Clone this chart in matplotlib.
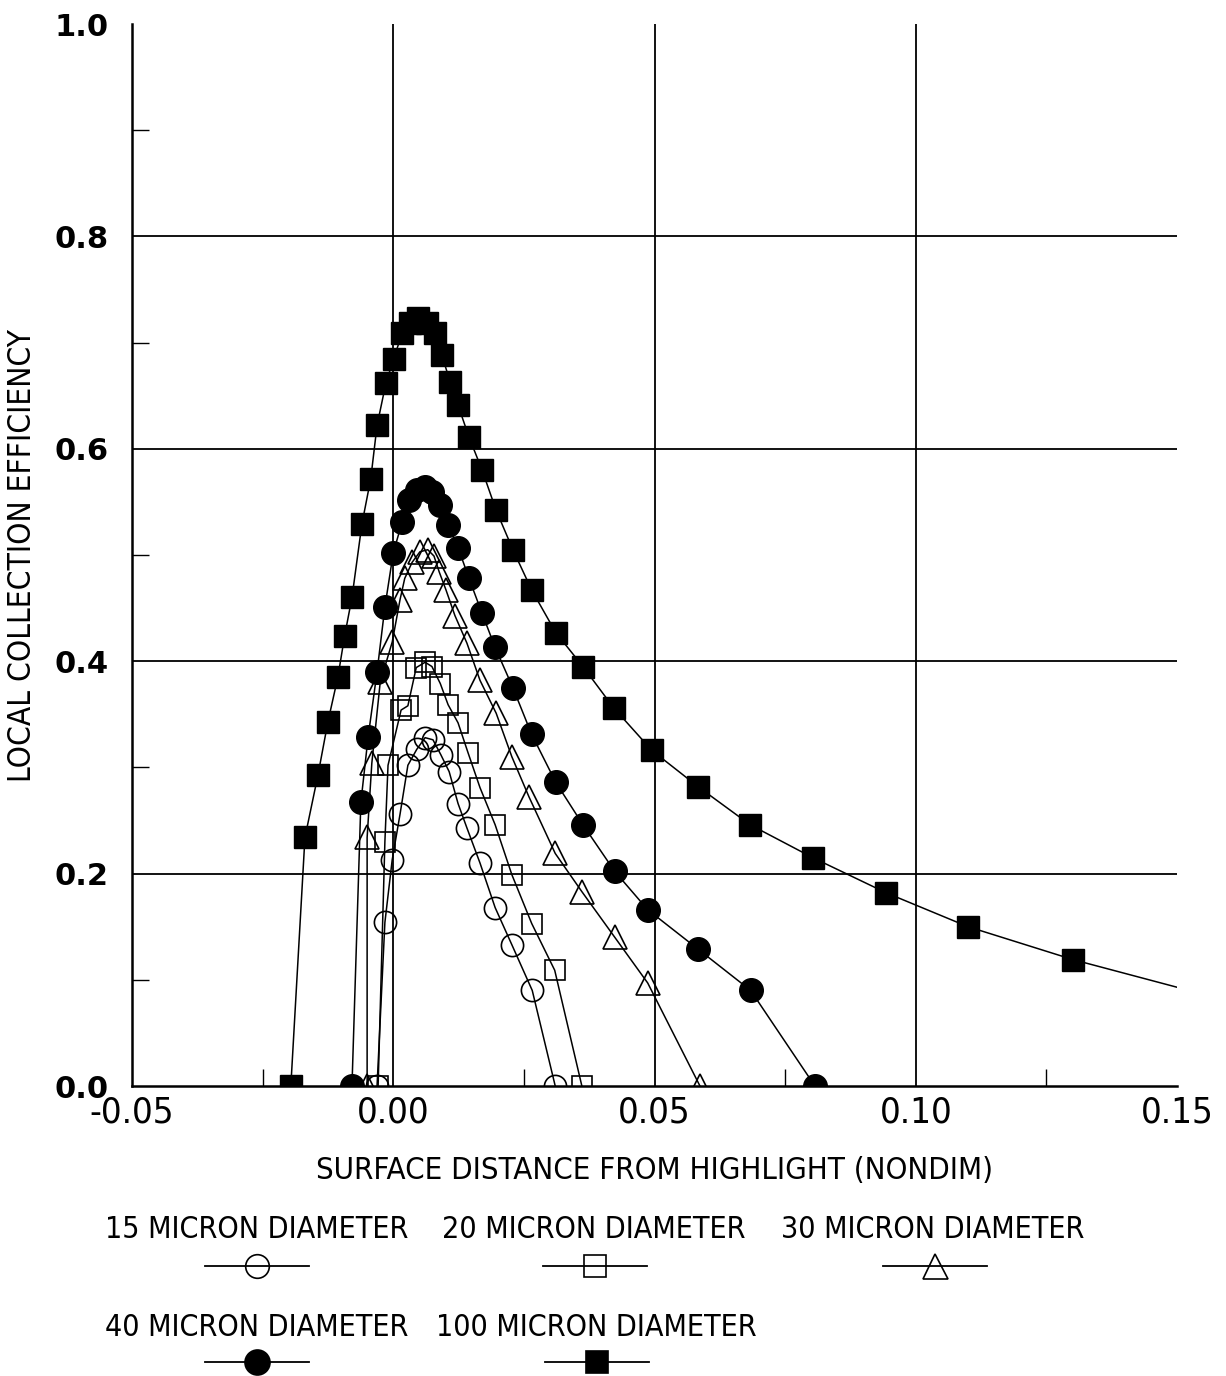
import matplotlib
matplotlib.use("Agg")
import matplotlib.pyplot as plt
from matplotlib import font_manager
from matplotlib.lines import Line2D
from matplotlib.ticker import FixedLocator

# ---- data ----
# 15 micron diameter (open circles)
x15 = [-0.0031, -0.0016, -0.0002, 0.0013, 0.0028, 0.0045, 0.0061, 0.0076, 0.0091,
       0.0107, 0.0124, 0.0141, 0.0166, 0.0195, 0.0227, 0.0266, 0.0310]
y15 = [0.000, 0.154, 0.213, 0.256, 0.302, 0.317, 0.328, 0.326, 0.312,
       0.296, 0.266, 0.243, 0.210, 0.168, 0.133, 0.090, 0.000]

# 20 micron diameter (open squares)
x20 = [-0.0029, -0.0016, -0.0010, 0.0015, 0.0028, 0.0044, 0.0061, 0.0074, 0.0090,
       0.0105, 0.0124, 0.0143, 0.0166, 0.0195, 0.0227, 0.0265, 0.0309, 0.0361]
y20 = [0.000, 0.230, 0.302, 0.354, 0.358, 0.394, 0.399, 0.395, 0.379,
       0.359, 0.342, 0.314, 0.281, 0.246, 0.199, 0.153, 0.109, 0.000]

# 30 micron diameter (open triangles)
x30 = [-0.0050, -0.0050, -0.0041, -0.0025, -0.0002, 0.0013, 0.0022, 0.0036, 0.0051,
       0.0066, 0.0078, 0.0088, 0.0101, 0.0118, 0.0141, 0.0166, 0.0197, 0.0227,
       0.0260, 0.0310, 0.0361, 0.0424, 0.0487, 0.0587]
y30 = [0.000, 0.234, 0.304, 0.380, 0.418, 0.458, 0.478, 0.493, 0.503,
       0.505, 0.499, 0.484, 0.467, 0.443, 0.417, 0.382, 0.351, 0.310,
       0.272, 0.219, 0.183, 0.140, 0.097, 0.000]

# 40 micron diameter (filled circles)
x40 = [-0.0079, -0.0062, -0.0048, -0.0031, -0.0016, 0.0000, 0.0017, 0.0030, 0.0045,
       0.0061, 0.0074, 0.0090, 0.0105, 0.0124, 0.0145, 0.0170, 0.0195, 0.0229,
       0.0265, 0.0311, 0.0363, 0.0424, 0.0487, 0.0583, 0.0684, 0.0807]
y40 = [0.000, 0.267, 0.329, 0.390, 0.451, 0.502, 0.531, 0.552, 0.561,
       0.564, 0.559, 0.547, 0.528, 0.507, 0.478, 0.445, 0.413, 0.375,
       0.331, 0.286, 0.246, 0.202, 0.166, 0.129, 0.090, 0.000]

# 100 micron diameter (filled squares); last point has no marker (curve runs to edge)
x100 = [-0.0196, -0.0169, -0.0144, -0.0125, -0.0106, -0.0093, -0.0079, -0.0060, -0.0043,
        -0.0031, -0.0014, 0.0001, 0.0017, 0.0032, 0.0047, 0.0065, 0.0080, 0.0093,
        0.0109, 0.0124, 0.0145, 0.0170, 0.0197, 0.0229, 0.0265, 0.0311, 0.0363,
        0.0422, 0.0495, 0.0583, 0.0683, 0.0803, 0.0943, 0.1100, 0.1301, 0.1500]
y100 = [0.000, 0.234, 0.293, 0.343, 0.385, 0.424, 0.460, 0.529, 0.572,
        0.622, 0.662, 0.685, 0.709, 0.718, 0.723, 0.718, 0.709, 0.688,
        0.663, 0.641, 0.611, 0.580, 0.542, 0.505, 0.467, 0.427, 0.395,
        0.356, 0.316, 0.282, 0.246, 0.215, 0.182, 0.150, 0.119, 0.093]

labels = ["15 MICRON DIAMETER", "20 MICRON DIAMETER", "30 MICRON DIAMETER",
          "40 MICRON DIAMETER", "100 MICRON DIAMETER"]

x_major = [-0.05, 0.00, 0.05, 0.10, 0.15]
x_major_labels = ["-0.05", "0.00", "0.05", "0.10", "0.15"]
x_minor = [-0.025, 0.025, 0.075, 0.125]
y_major = [0.0, 0.2, 0.4, 0.6, 0.8, 1.0]
y_major_labels = ["0.0", "0.2", "0.4", "0.6", "0.8", "1.0"]
y_minor = [0.1, 0.3, 0.5, 0.7, 0.9]
x_grid = [0.00, 0.05, 0.10]
y_grid = [0.2, 0.4, 0.6, 0.8]

W, H = 1226.0, 1376.0


def narrow_props():
    """Condensed face if one is installed, else plain Liberation Sans."""
    have = {f.name for f in font_manager.fontManager.ttflist}
    if "Liberation Sans Narrow" in have:
        return dict(family="Liberation Sans Narrow")
    fp = font_manager.FontProperties(family="DejaVu Sans", stretch="condensed")
    path = font_manager.findfont(fp, fallback_to_default=False)
    if "Condensed" in path:
        return dict(family="DejaVu Sans", fontstretch="condensed")
    return dict(family="Liberation Sans")


NARROW = narrow_props()

fig = plt.figure(figsize=(W / 100, H / 100), dpi=100)
ax = fig.add_axes([132 / W, 1 - 1086 / H, 1045 / W, 1062 / H])

ax.set_xlim(-0.05, 0.15)
ax.set_ylim(0.0, 1.0)

# grid lines (only interior ones, as in the original)
for gx in x_grid:
    ax.axvline(gx, color="black", linewidth=1.3, zorder=1)
for gy in y_grid:
    ax.axhline(gy, color="black", linewidth=1.3, zorder=1)

line_kw = dict(color="black", linewidth=1.1)
ax.plot(x15, y15, marker="o", markersize=16, mfc="none", mec="black", mew=1.2, zorder=3, **line_kw)
ax.plot(x20, y20, marker="s", markersize=15, mfc="none", mec="black", mew=1.2, zorder=3, **line_kw)
ax.plot(x30, y30, marker="^", markersize=17, mfc="none", mec="black", mew=1.2, zorder=3, **line_kw)
ax.plot(x40, y40, marker="o", markersize=17, mfc="black", mec="black", zorder=4, **line_kw)
ax.plot(x100, y100, marker="s", markersize=16, mfc="black", mec="black", zorder=4,
        markevery=list(range(len(x100) - 1)), **line_kw)

for side in ("top", "right"):
    ax.spines[side].set_visible(False)
for side in ("left", "bottom"):
    ax.spines[side].set_linewidth(1.8)

ax.xaxis.set_major_locator(FixedLocator(x_major))
xtl = ax.set_xticklabels(x_major_labels, fontsize=30, **NARROW)
ax.xaxis.set_minor_locator(FixedLocator(x_minor))
ax.yaxis.set_major_locator(FixedLocator(y_major))
ax.set_yticklabels(y_major_labels, fontsize=22, family="DejaVu Sans", fontweight="bold")
ax.yaxis.set_minor_locator(FixedLocator(y_minor))
ax.tick_params(which="major", length=0)
ax.tick_params(axis="x", which="major", pad=7)
ax.tick_params(axis="y", which="major", pad=17)
ax.tick_params(which="minor", direction="in", length=12, width=1.0)

xlab = ax.set_xlabel("SURFACE DISTANCE FROM HIGHLIGHT (NONDIM)", fontsize=24, **NARROW)
ax.xaxis.set_label_coords(0.5, -0.066)
ylab = ax.set_ylabel("LOCAL COLLECTION EFFICIENCY", fontsize=24, **NARROW)
ax.yaxis.set_label_coords(-0.09, 0.5)

# ---- hand-laid legend: label text above a short line with the marker ----
legend_specs = [
    # label, text cx, text cy, marker cx, marker cy, marker, mfc, size
    (labels[0], 257, 1229, 257, 1266, "o", "none", 17),
    (labels[1], 594, 1229, 595, 1266, "s", "none", 16),
    (labels[2], 933, 1229, 935, 1266, "^", "none", 18),
    (labels[3], 257, 1328, 257, 1362, "o", "black", 18),
    (labels[4], 596, 1328, 597, 1362, "s", "black", 16),
]
leg_texts = []
for text, tx, ty, mx, my, mk, fc, ms in legend_specs:
    t = fig.text(tx / W, 1 - ty / H, text, ha="center", va="center", fontsize=24, **NARROW)
    leg_texts.append(t)
    fig.add_artist(Line2D([(mx - 52) / W, mx / W, (mx + 52) / W], [1 - my / H] * 3,
                          transform=fig.transFigure, color="black", linewidth=1.3,
                          marker=mk, markersize=ms, mfc=fc, mec="black", mew=1.2,
                          markevery=[1]))

# scale the text sizes so widths match the original lettering
fig.canvas.draw()
renderer = fig.canvas.get_renderer()


def fit(texts, target_px, horizontal=True):
    ext = texts[0].get_window_extent(renderer)
    size = ext.width if horizontal else ext.height
    new = texts[0].get_fontsize() * target_px / size
    for t in texts:
        t.set_fontsize(new)


fit([xlab], 677)
fit([ylab], 455, horizontal=False)
fit(leg_texts[:1], 305)
for t in leg_texts[1:]:
    t.set_fontsize(leg_texts[0].get_fontsize())
fit([xtl[-1]], 73)
for t in xtl:
    t.set_fontsize(xtl[-1].get_fontsize())

fig.savefig("out.png", dpi=100)
